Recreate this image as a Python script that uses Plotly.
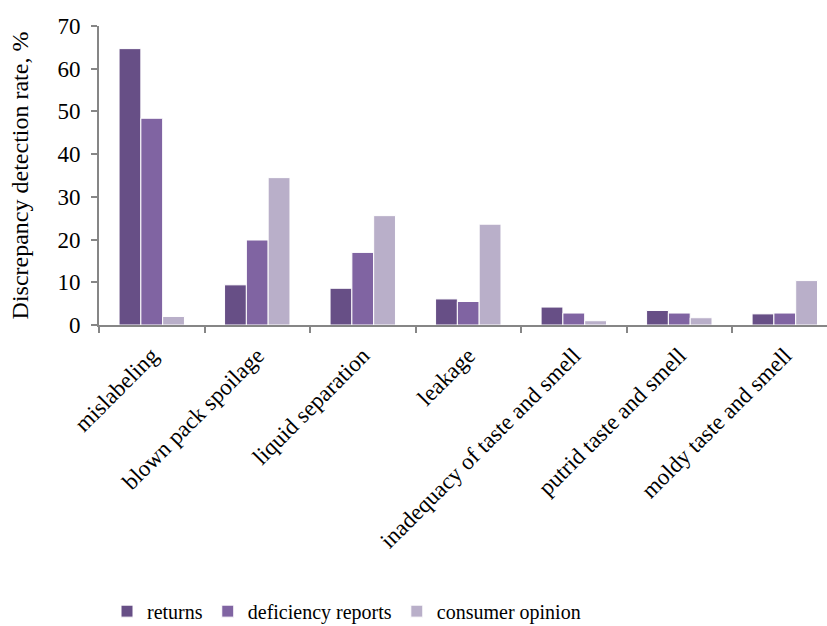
import plotly.graph_objects as go

categories = ["mislabeling", "blown pack spoilage", "liquid separation", "leakage",
              "inadequacy of taste and smell", "putrid taste and smell", "moldy taste and smell"]
returns = [64.7, 9.4, 8.6, 6.1, 4.2, 3.4, 2.6]
deficiency_reports = [48.4, 19.9, 17.0, 5.5, 2.8, 2.8, 2.8]
consumer_opinion = [2.0, 34.5, 25.6, 23.6, 1.0, 1.7, 10.4]

series = [("returns", returns, "#674F86"),
          ("deficiency reports", deficiency_reports, "#8064A2"),
          ("consumer opinion", consumer_opinion, "#B9AFC9")]

font_family = "Liberation Serif"

fig = go.Figure()
for name, vals, color in series:
    fig.add_trace(go.Bar(x=categories, y=vals, name=name,
                         marker=dict(color=color, line=dict(color="white", width=1))))

fig.update_layout(
    width=827, height=626,
    margin=dict(l=99, r=0, t=26, b=300.5, autoexpand=False),
    paper_bgcolor="white", plot_bgcolor="white",
    barmode="group", bargap=0.38, bargroupgap=0,
    font=dict(family=font_family, size=21, color="black"),
    showlegend=True,
    legend=dict(orientation="h", x=0.011, xanchor="left", y=-0.957, yanchor="middle",
                font=dict(size=20, family=font_family, color="black"), itemwidth=30,
                traceorder="normal"),
    xaxis=dict(range=[-0.5, 6.4], showline=True, linecolor="#868686", linewidth=2,
               ticks="outside", ticklen=6, tickcolor="#868686", tickwidth=2,
               tickson="boundaries", tickangle=-45, showgrid=False, automargin=False,
               ticklabelstandoff=6,
               tickfont=dict(size=23, family=font_family, color="black")),
    yaxis=dict(range=[0, 70], dtick=10, showline=True, linecolor="#868686", linewidth=2,
               ticks="outside", ticklen=6, tickcolor="#868686", tickwidth=2,
               showgrid=False, zeroline=False, automargin=False, ticklabelstandoff=6,
               tickfont=dict(size=23, family=font_family, color="black"),
               title=dict(text="Discrepancy detection rate, %", standoff=22,
                          font=dict(size=24, family=font_family, color="black"))),
)

fig.write_html("out.html", config={"displayModeBar": False},
               post_script="document.body.style.margin='0';")
